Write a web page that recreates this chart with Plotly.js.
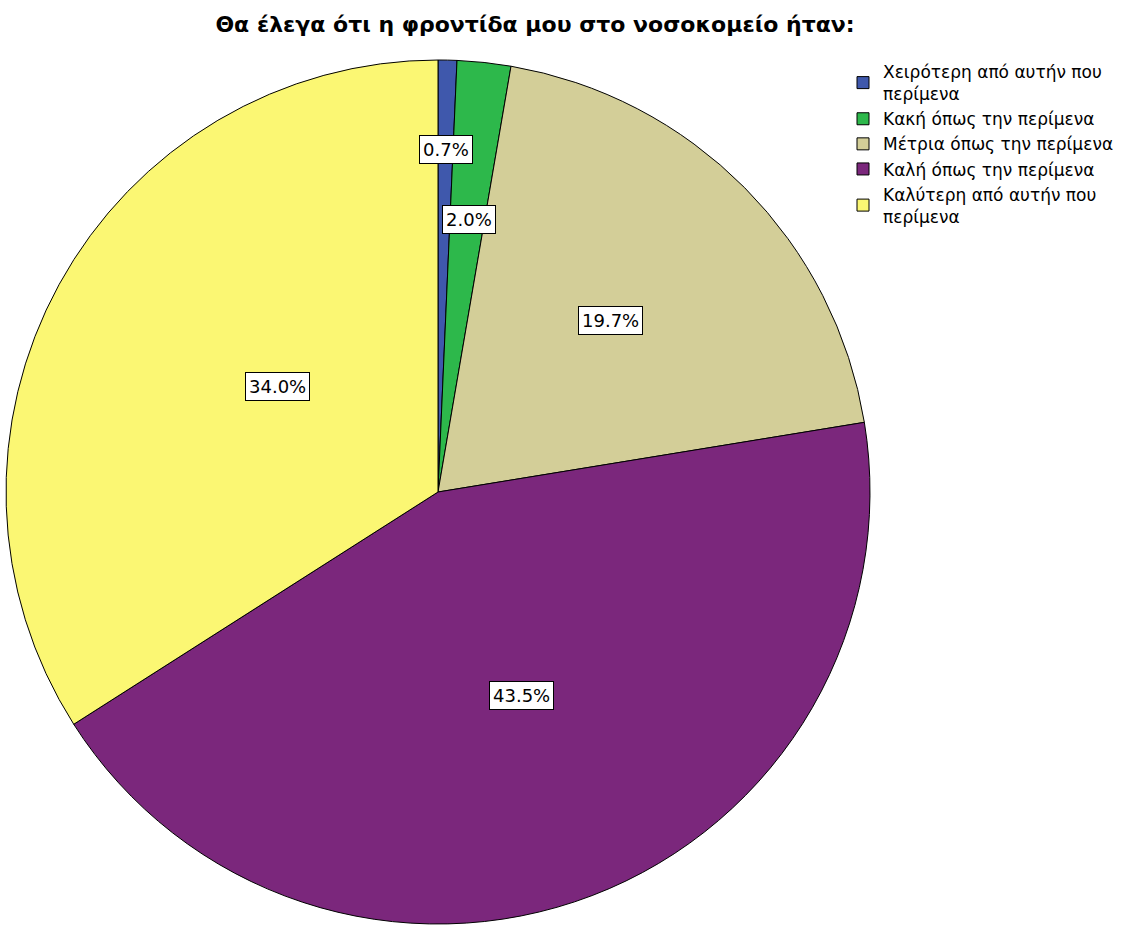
<!DOCTYPE html>
<html>
<head>
<meta charset="utf-8">
<script src="https://cdn.plot.ly/plotly-3.0.1.min.js"></script>
<style>html,body{margin:0;padding:0;background:#fff;}#chart{width:1136px;height:931px;}</style>
</head>
<body>
<div id="chart"></div>
<script>
// ---- data ----
const categories = [
  "Χειρότερη από αυτήν που<br>περίμενα",
  "Κακή όπως την περίμενα",
  "Μέτρια όπως την περίμενα",
  "Καλή όπως την περίμενα",
  "Καλύτερη από αυτήν που<br>περίμενα"
];
const percentages = [0.7, 2.0, 19.7, 43.5, 34.0];
const colors = ["#3F58AC", "#2DB84B", "#D3CE98", "#7B277C", "#FBF773"];
const chartTitle = "Θα έλεγα ότι η φροντίδα μου στο νοσοκομείο ήταν:";

// ---- layout constants ----
const W = 1136, H = 931;
const cx = 438, cy = 492, R = 432;          // pie centre / radius in px
const labelFrac = [0.827, 0.668, 0.563, 0.539, 0.51]; // label distance (fraction of radius)
const font = "DejaVu Sans, Verdana, sans-serif";

// label annotations from the data (mid-angle of each slice, clockwise from top)
const total = percentages.reduce((a, b) => a + b, 0);
let cum = 0;
const annotations = percentages.map((v, i) => {
  const mid = (cum + v / 2) / total * 2 * Math.PI;
  cum += v;
  const px = cx + R * labelFrac[i] * Math.sin(mid);
  const py = cy - R * labelFrac[i] * Math.cos(mid);
  return {
    x: px / W, y: 1 - py / H, xref: "paper", yref: "paper",
    text: v.toFixed(1) + "%", showarrow: false,
    font: {family: font, size: 18, color: "#000"},
    bgcolor: "#fff", bordercolor: "#000", borderwidth: 1, borderpad: 3
  };
});

const trace = {
  type: "pie",
  labels: categories,
  values: percentages,
  sort: false,
  direction: "clockwise",
  rotation: 0,
  textinfo: "none",
  hoverinfo: "label+percent",
  automargin: false,
  marker: {colors: colors, line: {color: "#000", width: 1}},
  domain: {
    x: [(cx - R) / W, (cx + R) / W],
    y: [1 - (cy + R) / H, 1 - (cy - R) / H]
  }
};

const layout = {
  width: W, height: H,
  margin: {l: 0, r: 0, t: 0, b: 0},
  paper_bgcolor: "#fff",
  title: {
    text: "<b>" + chartTitle + "</b>",
    x: 535 / W, xanchor: "center", y: 1 - 24 / H, yanchor: "middle",
    font: {family: font, size: 22, color: "#000"}
  },
  showlegend: true,
  legend: {
    x: 843 / W, xanchor: "left", y: 1 - 54 / H, yanchor: "top",
    font: {family: font, size: 17, color: "#000"},
    bgcolor: "rgba(0,0,0,0)", itemwidth: 30, tracegroupgap: 0
  },
  annotations: annotations
};

Plotly.newPlot("chart", [trace], layout, {displayModeBar: false});
</script>
</body>
</html>
